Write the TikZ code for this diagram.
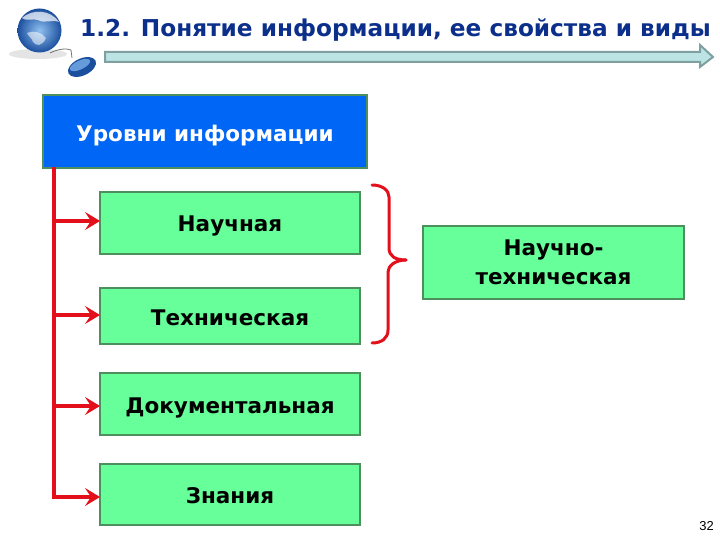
\documentclass[tikz,border=0pt]{standalone}
\usepackage{fontspec}
\setmainfont{DejaVu Sans}
\setsansfont{Liberation Sans}
\usetikzlibrary{arrows.meta}
\definecolor{titleblue}{HTML}{0B2F8A}
\definecolor{boxgreen}{HTML}{66FF99}
\definecolor{boxedge}{HTML}{4E8F5E}
\definecolor{headblue}{HTML}{0066F5}
\definecolor{redline}{HTML}{E3101C}
\definecolor{barfill}{HTML}{BCE4E4}
\definecolor{baredge}{HTML}{7FA0A0}
\definecolor{globeA}{HTML}{8FC0F0}
\definecolor{globeB}{HTML}{3F82D2}
\definecolor{globeC}{HTML}{1B4F9E}
\tikzset{
  x=1bp,y=-1bp,
  lvlbox/.style={draw=boxedge,line width=2bp,fill=boxgreen,minimum width=260bp,inner sep=0pt,text=black,align=center,anchor=north west,font=\fontsize{21.6}{29}\selectfont\bfseries},
  drop/.style={text depth=6bp,text height=6bp+2*#1},
  feed/.style={draw=redline,line width=4bp,-{Stealth[length=15bp,width=18bp,inset=6bp]},shorten >=-1bp},
  trunk/.style={draw=redline,line width=4.3bp,line cap=rect},
  bracket/.style={draw=redline,line width=3bp,line cap=round},
}
\begin{document}
\begin{tikzpicture}
\useasboundingbox (0,0) rectangle (720,540);
\fill[white] (0,0) rectangle (720,540);
% globe and mouse
\fill[black!35,opacity=.3] (38,54) ellipse (29 and 5);
\shade[inner color=globeA,outer color=globeC] (39.5,30.5) circle (22);
\fill[white,opacity=.7] (22,18) .. controls (32,9) and (50,9) .. (59,22) .. controls (52,19) and (45,24) .. (38,20) .. controls (32,18) and (28,22) .. (22,18) -- cycle;
\fill[white,opacity=.55] (27,33) .. controls (33,30) and (42,32) .. (46,38) .. controls (42,47) and (36,46) .. (33,42) .. controls (32,38) and (29,37) .. (27,33) -- cycle;
\draw[black!55,line width=.8bp] (50,53) .. controls (58,49) and (66,48) .. (71,50) -- (72,58);
\fill[rotate around={25:(82,67)},globeC] (82,67) ellipse (15 and 8.5);
\fill[rotate around={25:(80,65)},globeB!80!white] (80,65) ellipse (11 and 4.5);
% title
\node[anchor=base west,inner sep=0pt,text=titleblue,font=\fontsize{23.3}{26}\selectfont\bfseries] (title) at (80,37) {1.2. Понятие информации, ее свойства и виды};
% title bar
\draw[draw=baredge,fill=barfill,line width=2bp,line join=miter] (105,52) -- (700,52) -- (700,45) -- (713,57) -- (700,67) -- (700,62) -- (105,62) -- cycle;
% boxes
\node[lvlbox,fill=headblue,text=white,minimum width=324bp,minimum height=73bp,drop=10.5bp] (head) at (42,94) {Уровни информации};
\node[lvlbox,minimum height=62bp,drop=8.7bp] (sci) at (99,191) {Научная};
\node[lvlbox,minimum height=56bp,drop=9.3bp] (tech) at (99,287) {Техническая};
\node[lvlbox,minimum height=62bp,drop=9.7bp] (doc) at (99,372) {Документальная};
\node[lvlbox,minimum height=61bp,drop=8.8bp] (know) at (99,463) {Знания};
\node[lvlbox,minimum width=261bp,minimum height=73bp] (st) at (422,225) {Научно-\\техническая};
% trunk and feeds
\coordinate (t0) at (54,169);
\coordinate (t1) at (54,221);
\coordinate (t2) at (54,315);
\coordinate (t3) at (54,406);
\coordinate (t4) at (54,497);
\draw[trunk] (t0) -- (t4);
\draw[feed] (t1) -- (sci.west |- t1);
\draw[feed] (t2) -- (tech.west |- t2);
\draw[feed] (t3) -- (doc.west |- t3);
\draw[feed] (t4) -- (know.west |- t4);
% brace
\coordinate (b1) at (372,185);
\coordinate (b2) at (372,343);
\coordinate (btip) at (406,260);
\draw[bracket] (b1) .. controls (382,185) and (389,190) .. (389,197) -- (389,248) .. controls (389,256) and (395,260) .. (btip);
\draw[bracket] (b2) .. controls (382,343) and (388,338) .. (388,330) -- (388,272) .. controls (388,266) and (395,260) .. (btip);
\node[anchor=base east,inner sep=0pt,font=\fontsize{13}{15}\selectfont\sffamily] (pg) at (714,530) {32};
\end{tikzpicture}
\end{document}
